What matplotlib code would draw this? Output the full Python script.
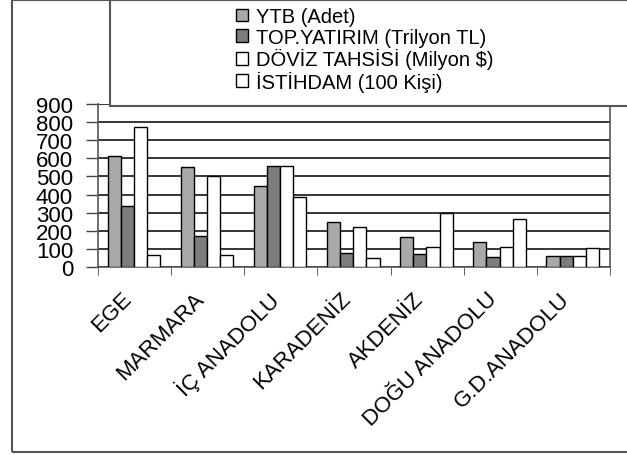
import numpy as np
import matplotlib
matplotlib.use("Agg")
import matplotlib.pyplot as plt
from matplotlib.patches import Rectangle
from matplotlib.transforms import ScaledTranslation

plt.rcParams['font.family'] = ['Liberation Sans', 'DejaVu Sans']

# veriler
bolgeler = ['EGE', 'MARMARA', 'İÇ ANADOLU', 'KARADENİZ', 'AKDENİZ',
            'DOĞU ANADOLU', 'G.D.ANADOLU']
ytb = [615, 550, 445, 250, 165, 140, 60]
yatirim = [335, 170, 555, 80, 70, 55, 60]
doviz = [775, 505, 560, 220, 110, 110, 60]
istihdam = [65, 65, 385, 50, 300, 265, 105]
seri_adlari = ['YTB (Adet)', 'TOP.YATIRIM (Trilyon TL)',
               'DÖVİZ TAHSİSİ (Milyon $)', 'İSTİHDAM (100 Kişi)']
renkler = ['#a9a9a9', '#7d7d7d', '#ffffff', '#ffffff']
y_ticks = [0, 100, 200, 300, 400, 500, 600, 700, 800, 900]

fig = plt.figure(figsize=(6.27, 4.56), dpi=100)
ax = fig.add_axes([98 / 627, 1 - 268 / 456, (610 - 98) / 627, (268 - 105) / 456])

x = np.arange(len(bolgeler))
w = 0.18
seriler = [ytb, yatirim, doviz, istihdam]
for i, (s, r, ad) in enumerate(zip(seriler, renkler, seri_adlari)):
    ax.bar(x + (i - 1.5) * w - 0.01, s, w, color=r, edgecolor='black',
           linewidth=1.0, label=ad, zorder=3)

ax.set_xlim(-0.5, len(bolgeler) - 0.5)
ax.set_ylim(0, 900)
ax.set_yticks(y_ticks)
ax.set_yticklabels([str(v) for v in y_ticks], fontsize=16)
ax.yaxis.grid(True, color='black', linewidth=1.1, zorder=0)
ax.tick_params(axis='y', length=9, width=1, pad=9, color='#444444')

ax.set_xticks(x)
ax.set_xticklabels(bolgeler, rotation=45, ha='right', va='top',
                   rotation_mode='anchor', fontsize=16)
ax.set_xticks(np.arange(-0.5, len(bolgeler)), minor=True)
ax.tick_params(axis='x', which='major', length=0, pad=15)
ax.tick_params(axis='x', which='minor', length=6, color='#444444')
kaydir = ScaledTranslation(-14 / 100, 0, fig.dpi_scale_trans)
for t in ax.get_xticklabels():
    t.set_transform(t.get_transform() + kaydir)

for k in ['left', 'bottom', 'right']:
    ax.spines[k].set_color('#555555')
    ax.spines[k].set_linewidth(1.2)
ax.spines['top'].set_visible(False)

# dis cerceve ve lejant kutusu
fig.patches.append(Rectangle((12 / 627, 1 - 453 / 456), 1, 452 / 456,
                             transform=fig.transFigure, fill=False,
                             edgecolor='#555555', linewidth=1.5))
fig.patches.append(Rectangle((110 / 627, 1 - 107 / 456), 1, 106 / 456,
                             transform=fig.transFigure, facecolor='white',
                             edgecolor='#555555', linewidth=1.5, zorder=5))

h, l = ax.get_legend_handles_labels()
leg = fig.legend(h, l, loc='upper left', bbox_to_anchor=(236 / 627, 1 - 8 / 456),
                 frameon=False, fontsize=14.5, handlelength=0.6, handleheight=0.6,
                 handletextpad=0.4, labelspacing=0.08, borderpad=0, borderaxespad=0)
leg.set_zorder(6)

fig.savefig('out.png', dpi=100)
